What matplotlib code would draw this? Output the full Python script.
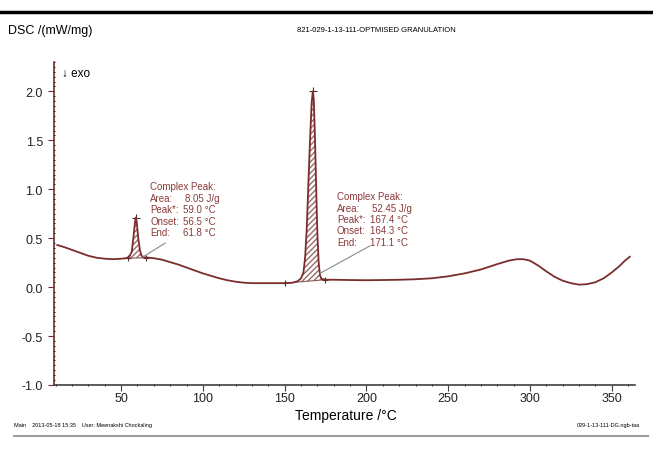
import numpy as np
import matplotlib.pyplot as plt
from matplotlib.lines import Line2D
from matplotlib.ticker import MultipleLocator

plt.rcParams['font.family'] = ['Liberation Sans', 'DejaVu Sans']

# DSC curve
temp = [11, 15, 20, 25, 30, 35, 40, 45, 50, 53, 55, 56.5, 57.5, 58.5, 59.0, 59.6,
        60.5, 61.5, 62.5, 64, 67, 70, 75, 80, 85, 90, 95, 100, 105, 110, 115, 120,
        125, 130, 140, 150, 155, 158, 160, 161.5, 162.5, 163.5, 164.5, 165.5, 166.5,
        167.2, 167.8, 168.5, 169.3, 170.0, 170.8, 171.6, 172.5, 175, 180, 190, 200,
        210, 220, 230, 240, 250, 260, 270, 280, 287, 292, 296, 300, 305, 310, 315,
        320, 325, 330, 335, 340, 345, 350, 355, 358, 361]
dsc = [0.43, 0.41, 0.38, 0.35, 0.32, 0.30, 0.29, 0.285, 0.29, 0.295, 0.31, 0.36, 0.50,
       0.66, 0.71, 0.66, 0.50, 0.38, 0.32, 0.305, 0.30, 0.295, 0.28, 0.255, 0.23, 0.20,
       0.17, 0.14, 0.115, 0.09, 0.07, 0.055, 0.045, 0.04, 0.04, 0.04, 0.045, 0.06, 0.09,
       0.15, 0.30, 0.60, 1.05, 1.50, 1.88, 2.00, 1.92, 1.55, 1.00, 0.55, 0.25, 0.12,
       0.085, 0.075, 0.075, 0.072, 0.07, 0.072, 0.075, 0.08, 0.09, 0.11, 0.14, 0.18,
       0.235, 0.27, 0.285, 0.285, 0.27, 0.22, 0.16, 0.105, 0.065, 0.04, 0.025, 0.03,
       0.05, 0.09, 0.15, 0.22, 0.27, 0.31]

# peak evaluations: baseline limits, peak point, result text
base_start = [(54, 0.295), (150, 0.04)]
base_end = [(65, 0.30), (174.5, 0.075)]
peak_pt = [(59.0, 0.71), (167.4, 2.0)]
areas = ['8.05 J/g', '52.45 J/g']
peaks = ['59.0 °C', '167.4 °C']
onsets = ['56.5 °C', '164.3 °C']
ends = ['61.8 °C', '171.1 °C']

# where the result boxes sit
box_pos = [(67.8, 1.03, 87.8), (182.0, 0.93, 202.0)]
leader = [((77.0, 0.45), (63.5, 0.31)), ((202.0, 0.42), (171.6, 0.14))]

curve_col = '#7b2d2d'
text_col = '#8b3a3a'

fig = plt.figure(figsize=(6.53, 4.6), dpi=100)
ax = fig.add_axes([0.0827, 0.161, 0.8893, 0.702])

T = np.array(temp)
D = np.array(dsc)

for i in range(2):
    (x0, y0), (x1, y1) = base_start[i], base_end[i]
    m = (T >= x0) & (T <= x1)
    xs = np.concatenate([[x0], T[m], [x1]])
    ys = np.concatenate([[y0], D[m], [y1]])
    yb = np.interp(xs, [x0, x1], [y0, y1])
    ax.fill_between(xs, ys, yb, facecolor='none', edgecolor='#9a6a6a',
                    hatch='//////', linewidth=0)
    ax.plot([x0, x1], [y0, y1], color='#8a5a5a', lw=0.8)
    ax.plot([x0, x1], [y0, y1], '+', color='#5a2a2a', ms=5, mew=0.8)
    ax.plot(*peak_pt[i], '+', color='#5a2a2a', ms=6, mew=0.8)

ax.plot(T, D, color=curve_col, lw=1.3)

for i in range(2):
    lx, ly, vx = box_pos[i]
    step = 0.117
    ax.text(lx, ly, 'Complex Peak:', color=text_col, fontsize=7, va='center')
    labels = ['Area:', 'Peak*:', 'Onset:', 'End:']
    vals = [areas[i], peaks[i], onsets[i], ends[i]]
    for k in range(4):
        yy = ly - step * (k + 1)
        ax.text(lx, yy, labels[k], color=text_col, fontsize=7, va='center')
        ax.text(vx + (1.5 if k == 0 else 0), yy, vals[k], color=text_col,
                fontsize=7, va='center')
    (a, b), (c, d) = leader[i]
    ax.plot([a, c], [b, d], color='#8a8a8a', lw=0.8)

ax.set_xlim(9, 364)
ax.set_ylim(-1.0, 2.3)
ax.xaxis.set_major_locator(MultipleLocator(50))
ax.xaxis.set_minor_locator(MultipleLocator(10))
ax.yaxis.set_major_locator(MultipleLocator(0.5))
ax.yaxis.set_minor_locator(MultipleLocator(0.05))
ax.yaxis.set_major_formatter(plt.FormatStrFormatter('%.1f'))
ax.tick_params(axis='both', which='major', labelsize=9, length=4, width=0.8,
               direction='out', pad=3)
ax.tick_params(axis='both', which='minor', length=2, width=0.7, direction='inout')
ax.tick_params(axis='x', colors='#404040', labelcolor='#222222', pad=1)
ax.tick_params(axis='y', colors='#6e3030', labelcolor='#222222', pad=4)
ax.spines['top'].set_visible(False)
ax.spines['right'].set_visible(False)
ax.spines['left'].set_color('#6e3030')
ax.spines['bottom'].set_color('#404040')
ax.spines['left'].set_linewidth(1.2)
ax.spines['bottom'].set_linewidth(1.2)

ax.text(0.013, 0.985, '↓ exo', transform=ax.transAxes, fontsize=8.5, va='top')

W, H = 653, 460
fig.add_artist(Line2D([0, 1], [1 - 13 / H, 1 - 13 / H], color='black', lw=2.5))
fig.add_artist(Line2D([14 / W, 648 / W], [1 - 437 / H, 1 - 437 / H],
                      color='#a0a0a0', lw=1.5))
fig.text(8 / W, 1 - 31 / H, 'DSC /(mW/mg)', fontsize=9, va='center')
fig.text(376 / W, 1 - 31 / H, '821-029-1-13-111-OPTMISED GRANULATION', fontsize=5.5,
         va='center', ha='center', family=['Liberation Sans Narrow', 'Liberation Sans'])
fig.text(346 / W, 1 - 416 / H, 'Temperature /°C', fontsize=10, va='center', ha='center')
fig.text(14 / W, 1 - 426 / H, 'Main    2013-05-18 15:35    User: Meenakshi Chockaling',
         fontsize=4, va='center')
fig.text(640 / W, 1 - 426 / H, '029-1-13-111-DG.ngb-taa', fontsize=4, va='center',
         ha='right')

fig.savefig('out.png', dpi=100)
